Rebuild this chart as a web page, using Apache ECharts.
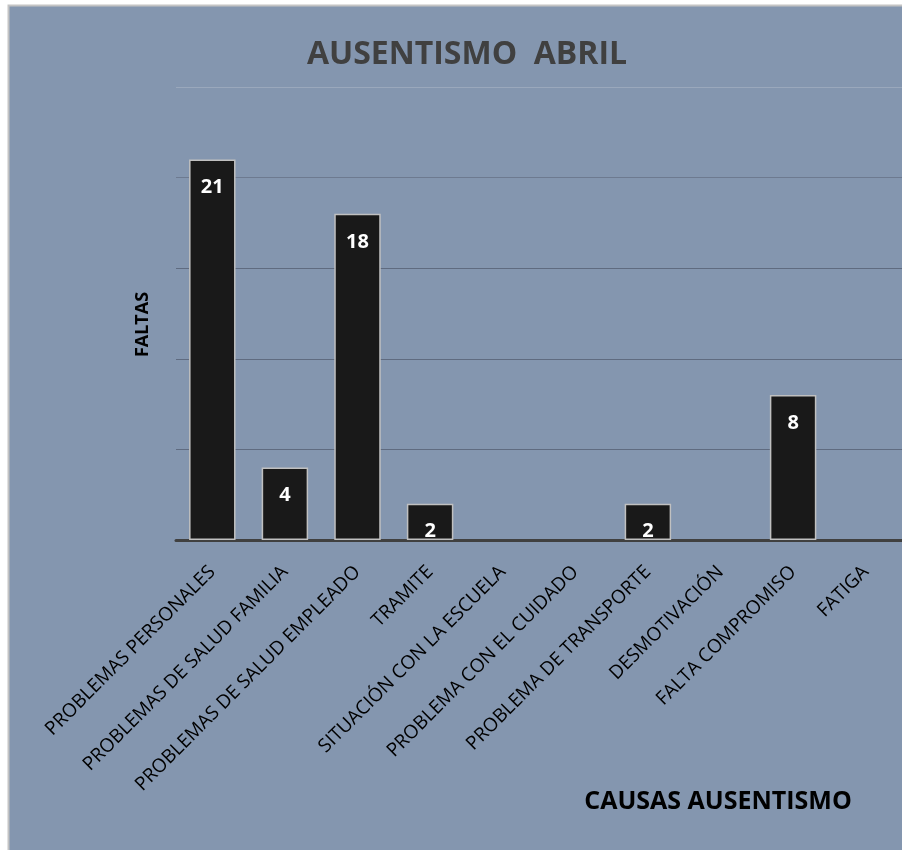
<!DOCTYPE html>
<html>
<head>
<meta charset="utf-8">
<script src="https://cdn.jsdelivr.net/npm/echarts@6/dist/echarts.min.js"></script>
<style>
  html, body { margin: 0; padding: 0; background: #ffffff; }
  #chart { width: 902px; height: 850px; }
</style>
</head>
<body>
<div id="chart"></div>
<script>
// categorias y valores (ausentismo abril)
const categories = [
  "PROBLEMAS PERSONALES",
  "PROBLEMAS DE SALUD FAMILIA",
  "PROBLEMAS DE SALUD EMPLEADO",
  "TRAMITE",
  "SITUACIÓN CON LA ESCUELA",
  "PROBLEMA CON EL CUIDADO",
  "PROBLEMA DE TRANSPORTE",
  "DESMOTIVACIÓN",
  "FALTA COMPROMISO",
  "FATIGA",
];
const faltas = [21, 4, 18, 2, null, null, 2, null, 8, null];

const chart = echarts.init(document.getElementById("chart"));
const option = {
  backgroundColor: "#ffffff",
  animation: false,
  graphic: [
    {
      type: "rect",
      z: -10,
      shape: { x: 8.5, y: 5.5, width: 920, height: 870 },
      style: { fill: "#8496af", stroke: "#c4c4c4", lineWidth: 2 },
    },
  ],
  title: {
    text: "AUSENTISMO  ABRIL",
    left: 462,
    textAlign: "center",
    top: 34,
    textStyle: {
      fontFamily: "Open Sans",
      fontSize: 32,
      fontWeight: "bold",
      color: "#404040",
    },
  },
  grid: { left: 176, right: 0, top: 87, bottom: 310 },
  xAxis: {
    type: "category",
    data: categories,
    name: "CAUSAS AUSENTISMO",
    nameLocation: "middle",
    nameGap: 249,
    nameMoveOverlap: false,
    nameTextStyle: {
      fontFamily: "Open Sans",
      fontSize: 25,
      fontWeight: "bold",
      color: "#000000",
      padding: [0, 0, 0, 358],
    },
    axisLine: { lineStyle: { color: "#404040", width: 3 } },
    axisTick: { show: false },
    axisLabel: {
      interval: 0,
      rotate: 45,
      margin: 29,
      fontFamily: "Open Sans",
      fontSize: 19,
      color: "#000000",
    },
  },
  yAxis: {
    type: "value",
    min: 0,
    max: 25,
    interval: 5,
    name: "FALTAS",
    nameLocation: "middle",
    nameGap: 24,
    nameRotate: 90,
    nameTextStyle: {
      fontFamily: "Open Sans",
      fontSize: 18,
      fontWeight: "bold",
      color: "#000000",
      padding: [0, 22, 0, 0],
    },
    axisLine: { show: false },
    axisTick: { show: false },
    axisLabel: { show: false },
    splitLine: {
      lineStyle: {
        color: ["#404040", "#5f6b80", "#5f6b80", "#5f6b80", "#6d7a90", "#9aa8bc"],
        width: 1,
      },
    },
  },
  series: [
    {
      type: "bar",
      data: faltas,
      barWidth: "64%",
      itemStyle: {
        color: "#191919",
        borderColor: "#c0c0c0",
        borderWidth: 1.5,
      },
      label: {
        show: true,
        position: "insideTop",
        distance: 18,
        fontFamily: "Open Sans",
        fontSize: 20,
        fontWeight: "bold",
        color: "#ffffff",
      },
    },
  ],
};
chart.setOption(option);
</script>
</body>
</html>
